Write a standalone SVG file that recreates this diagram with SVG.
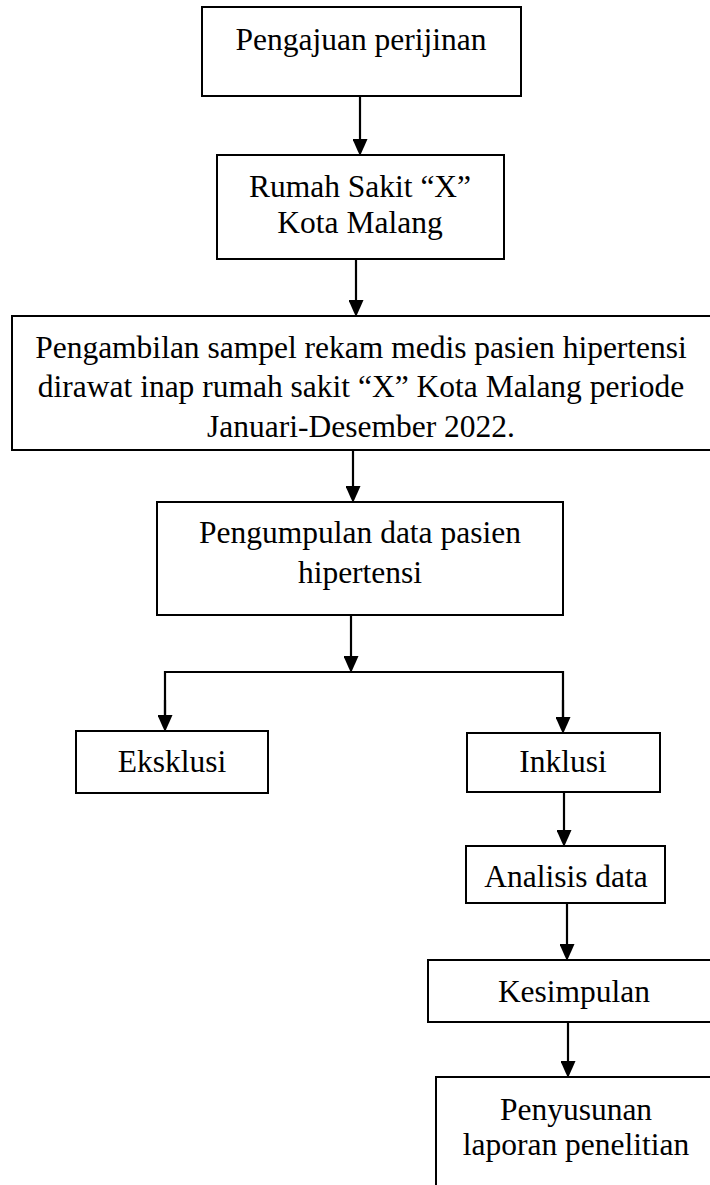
<svg xmlns="http://www.w3.org/2000/svg" width="710" height="1185" viewBox="0 0 710 1185">
  <style>
    .box { fill: #ffffff; stroke: #000000; stroke-width: 2; }
    .lbl { font-family: "Liberation Serif", "Times New Roman", serif; font-size: 31.5px; fill: #000000; text-anchor: middle; }
    .conn { fill: none; stroke: #000000; stroke-width: 2.2; }
  </style>
  <defs>
    <marker id="arr" viewBox="0 0 17 15" refX="6" refY="7.5" markerWidth="17" markerHeight="15" markerUnits="userSpaceOnUse" orient="auto">
      <path d="M0,0 L17,7.5 L0,15 Z" fill="#000000"/>
    </marker>
  </defs>
  <rect width="710" height="1185" fill="#ffffff"/>

  <g id="connectors">
    <line class="conn" x1="360" y1="96" x2="360" y2="145" marker-end="url(#arr)"/>
    <line class="conn" x1="356" y1="259" x2="356" y2="306" marker-end="url(#arr)"/>
    <line class="conn" x1="353" y1="450" x2="353" y2="492" marker-end="url(#arr)"/>
    <line class="conn" x1="351" y1="615" x2="351" y2="662" marker-end="url(#arr)"/>
    <polyline class="conn" points="165,721 165,672 563,672 563,723"/>
    <line class="conn" x1="165" y1="700" x2="165" y2="721" marker-end="url(#arr)"/>
    <line class="conn" x1="563" y1="700" x2="563" y2="723" marker-end="url(#arr)"/>
    <line class="conn" x1="564" y1="792" x2="564" y2="836" marker-end="url(#arr)"/>
    <line class="conn" x1="567" y1="903" x2="567" y2="950" marker-end="url(#arr)"/>
    <line class="conn" x1="568" y1="1022" x2="568" y2="1067" marker-end="url(#arr)"/>
  </g>

  <g id="n1">
    <rect class="box" x="202" y="7" width="319" height="89"/>
    <text class="lbl" x="361" y="50">Pengajuan perijinan</text>
  </g>
  <g id="n2">
    <rect class="box" x="217" y="155" width="287" height="104"/>
    <text class="lbl" x="360" y="197">Rumah Sakit “X”</text>
    <text class="lbl" x="360" y="233">Kota Malang</text>
  </g>
  <g id="n3">
    <rect class="box" x="12" y="316" width="712" height="134"/>
    <text class="lbl" x="361" y="358">Pengambilan sampel rekam medis pasien hipertensi</text>
    <text class="lbl" x="361" y="397">dirawat inap rumah sakit “X” Kota Malang periode</text>
    <text class="lbl" x="361" y="437">Januari-Desember 2022.</text>
  </g>
  <g id="n4">
    <rect class="box" x="157" y="502" width="406" height="113"/>
    <text class="lbl" x="360" y="543">Pengumpulan data pasien</text>
    <text class="lbl" x="360" y="583">hipertensi</text>
  </g>
  <g id="n5">
    <rect class="box" x="76" y="731" width="192" height="62"/>
    <text class="lbl" x="172" y="772">Eksklusi</text>
  </g>
  <g id="n6">
    <rect class="box" x="467" y="733" width="193" height="59"/>
    <text class="lbl" x="563" y="772">Inklusi</text>
  </g>
  <g id="n7">
    <rect class="box" x="466" y="846" width="199" height="57"/>
    <text class="lbl" x="566" y="887">Analisis data</text>
  </g>
  <g id="n8">
    <rect class="box" x="428" y="960" width="290" height="62"/>
    <text class="lbl" x="574" y="1002">Kesimpulan</text>
  </g>
  <g id="n9">
    <rect class="box" x="436" y="1077" width="282" height="120"/>
    <text class="lbl" x="576" y="1120">Penyusunan</text>
    <text class="lbl" x="576" y="1155">laporan penelitian</text>
  </g>
</svg>
